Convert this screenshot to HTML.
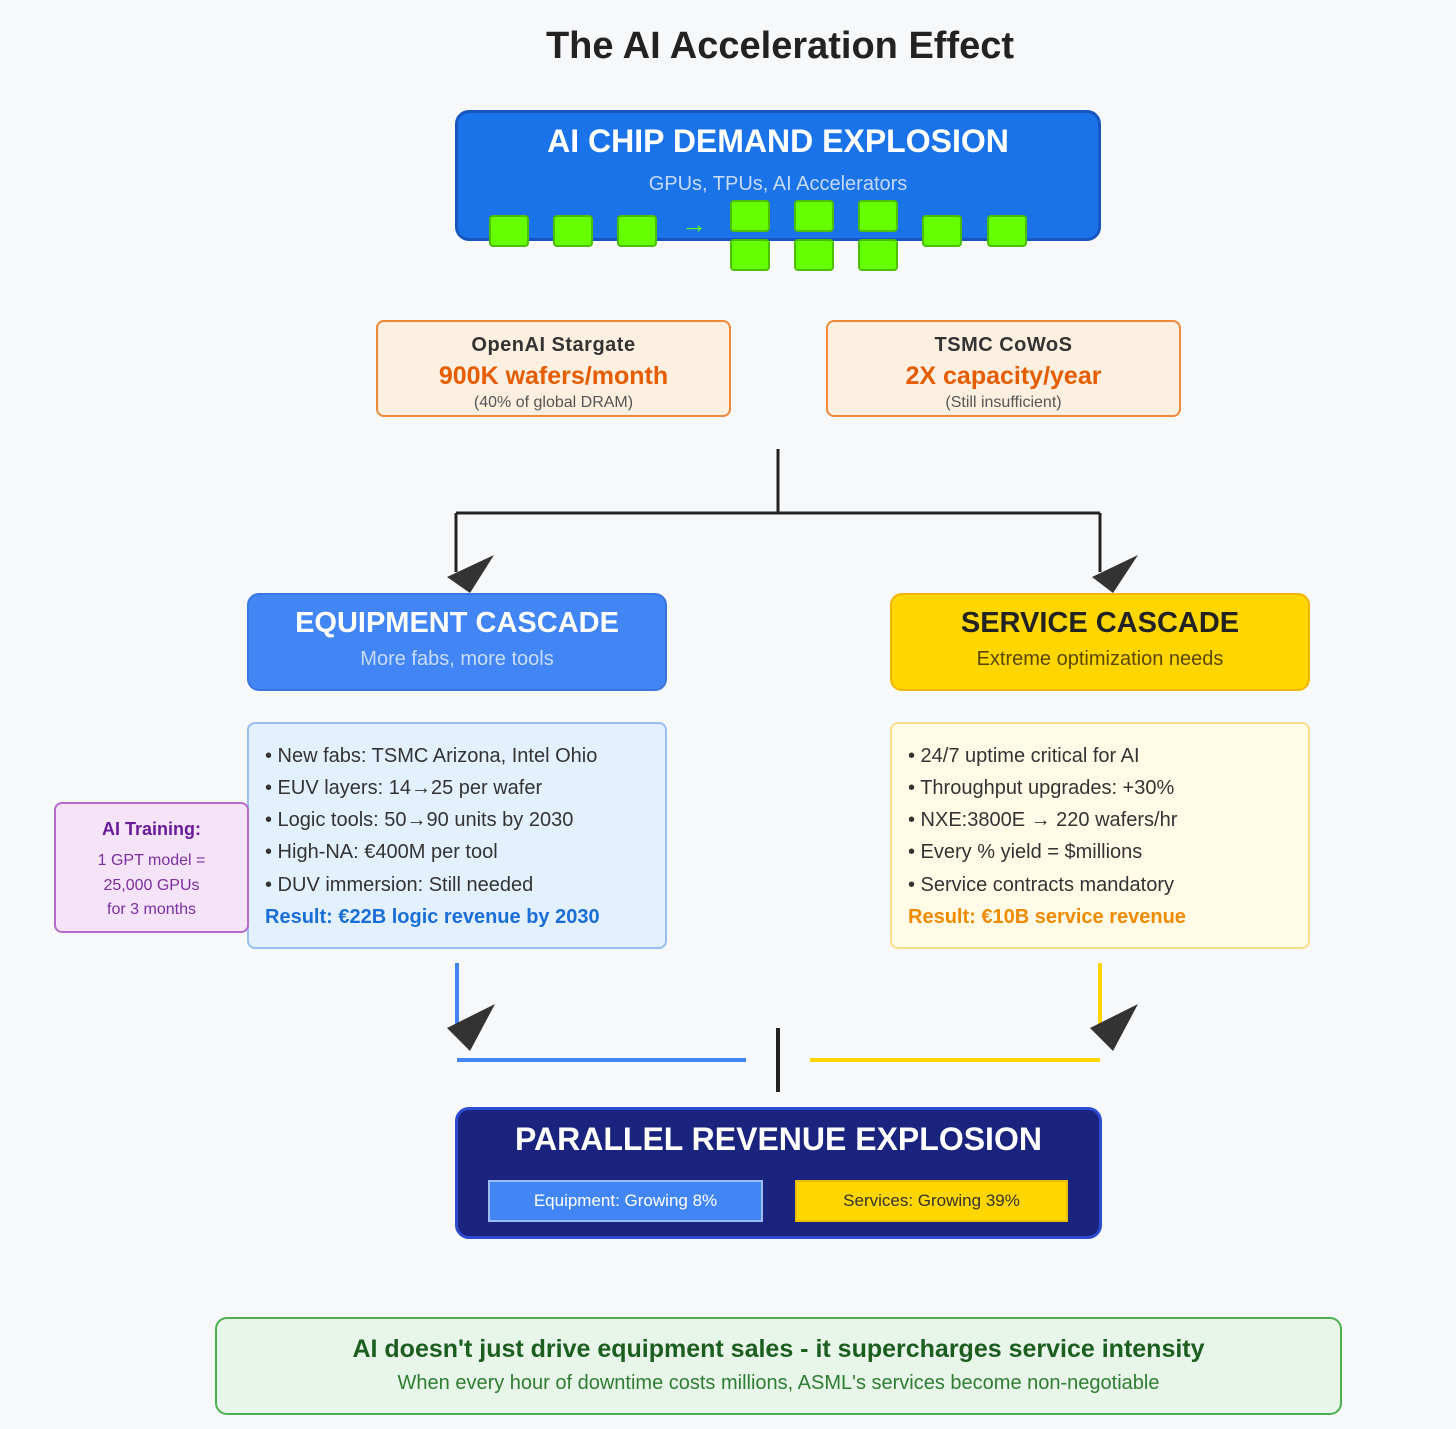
<!DOCTYPE html>
<html><head><meta charset="utf-8"><style>
*{margin:0;padding:0;box-sizing:border-box}
body{width:1456px;height:1429px;background:#f7f8fa;font-family:"Liberation Sans",Arial,sans-serif;position:relative;overflow:hidden}
.a{position:absolute}
.c{position:absolute;left:0;right:0;text-align:center;white-space:nowrap}
.sq{position:absolute;width:40px;height:32px;background:#66ff00;border:2px solid #4cbf00;border-radius:4px}
.li{position:absolute;left:16px;font-size:20px;color:#333;white-space:nowrap}
</style></head><body>
<div class="a" style="left:480px;width:600px;text-align:center;top:25px;font-size:38px;font-weight:bold;color:#222;white-space:nowrap">The AI Acceleration Effect</div>

<div class="a" style="left:455px;top:110px;width:646px;height:131px;background:#1a73e8;border:3px solid #1656c0;border-radius:14px">
<div class="c" style="top:10px;font-size:32px;font-weight:bold;color:#fff">AI CHIP DEMAND EXPLOSION</div>
<div class="c" style="top:60px;font-size:20px;color:#c6dafa">GPUs, TPUs, AI Accelerators</div>
</div>
<div class="sq" style="left:489px;top:215px"></div>
<div class="sq" style="left:553px;top:215px"></div>
<div class="sq" style="left:617px;top:215px"></div>
<div class="a" style="left:681px;top:209px;font-size:26px;color:#5fff20">→</div>
<div class="sq" style="left:730px;top:200px"></div>
<div class="sq" style="left:794px;top:200px"></div>
<div class="sq" style="left:858px;top:200px"></div>
<div class="sq" style="left:730px;top:239px"></div>
<div class="sq" style="left:794px;top:239px"></div>
<div class="sq" style="left:858px;top:239px"></div>
<div class="sq" style="left:922px;top:215px"></div>
<div class="sq" style="left:987px;top:215px"></div>

<div class="a" style="left:376px;top:320px;width:355px;height:97px;background:#fdf0e0;border:2px solid #f0883a;border-radius:8px">
<div class="c" style="top:12px;font-size:20px;font-weight:bold;color:#333;letter-spacing:0.5px">OpenAI Stargate</div>
<div class="c" style="top:40px;font-size:25px;font-weight:bold;color:#e65c00">900K wafers/month</div>
<div class="c" style="top:72px;font-size:16px;color:#555">(40% of global DRAM)</div>
</div>
<div class="a" style="left:826px;top:320px;width:355px;height:97px;background:#fdf0e0;border:2px solid #f0883a;border-radius:8px">
<div class="c" style="top:12px;font-size:20px;font-weight:bold;color:#333;letter-spacing:0.5px">TSMC CoWoS</div>
<div class="c" style="top:40px;font-size:25px;font-weight:bold;color:#e65c00">2X capacity/year</div>
<div class="c" style="top:72px;font-size:16px;color:#555">(Still insufficient)</div>
</div>

<svg class="a" style="left:0;top:0" width="1456" height="1429">
<g stroke="#222" stroke-width="3" fill="none">
<path d="M778 449V513M456 513H1100M456 513V572M1100 513V572"/>
</g>
<polygon points="447,577 494,555 470,593" fill="#333"/>
<polygon points="1092,577 1138,555 1113,593" fill="#333"/>
<line x1="457" y1="963" x2="457" y2="1026" stroke="#4285f4" stroke-width="4"/>
<line x1="1100" y1="963" x2="1100" y2="1026" stroke="#ffd600" stroke-width="4"/>
<polygon points="447,1028 495,1004 470,1051" fill="#333"/>
<polygon points="1090,1028 1138,1004 1113,1051" fill="#333"/>
<line x1="457" y1="1060" x2="746" y2="1060" stroke="#4285f4" stroke-width="4"/>
<line x1="810" y1="1060" x2="1100" y2="1060" stroke="#ffd600" stroke-width="4"/>
<line x1="778" y1="1028" x2="778" y2="1092" stroke="#222" stroke-width="4"/>
</svg>

<div class="a" style="left:247px;top:593px;width:420px;height:98px;background:#4285f4;border:2px solid #3a76e0;border-radius:12px">
<div class="c" style="top:12px;font-size:29px;font-weight:bold;color:#fff">EQUIPMENT CASCADE</div>
<div class="c" style="top:53px;font-size:20px;color:#c8dcff">More fabs, more tools</div>
</div>
<div class="a" style="left:890px;top:593px;width:420px;height:98px;background:#ffd600;border:2px solid #f5b400;border-radius:12px">
<div class="c" style="top:12px;font-size:29px;font-weight:bold;color:#222">SERVICE CASCADE</div>
<div class="c" style="top:53px;font-size:20px;color:#5a4800">Extreme optimization needs</div>
</div>

<div class="a" style="left:247px;top:722px;width:420px;height:227px;background:#e3f0fd;border:2px solid #98bff0;border-radius:8px">
<div class="li" style="top:21px">• New fabs: TSMC Arizona, Intel Ohio</div>
<div class="li" style="top:53px">• EUV layers: 14→25 per wafer</div>
<div class="li" style="top:85px">• Logic tools: 50→90 units by 2030</div>
<div class="li" style="top:117px">• High-NA: €400M per tool</div>
<div class="li" style="top:150px">• DUV immersion: Still needed</div>
<div class="li" style="top:182px;font-weight:bold;color:#1a6ed8">Result: €22B logic revenue by 2030</div>
</div>
<div class="a" style="left:890px;top:722px;width:420px;height:227px;background:#fffbe6;border:2px solid #f8e08a;border-radius:8px">
<div class="li" style="top:21px">• 24/7 uptime critical for AI</div>
<div class="li" style="top:53px">• Throughput upgrades: +30%</div>
<div class="li" style="top:85px">• NXE:3800E → 220 wafers/hr</div>
<div class="li" style="top:117px">• Every % yield = $millions</div>
<div class="li" style="top:150px">• Service contracts mandatory</div>
<div class="li" style="top:182px;font-weight:bold;color:#f08a00">Result: €10B service revenue</div>
</div>

<div class="a" style="left:54px;top:802px;width:195px;height:131px;background:#f5e3f8;border:2px solid #b56cc8;border-radius:8px">
<div class="c" style="top:15px;font-size:18px;font-weight:bold;color:#6a1b9a">AI Training:</div>
<div class="c" style="top:48px;font-size:16px;color:#7b2fa0">1 GPT model =</div>
<div class="c" style="top:73px;font-size:16px;color:#7b2fa0">25,000 GPUs</div>
<div class="c" style="top:97px;font-size:16px;color:#7b2fa0">for 3 months</div>
</div>

<div class="a" style="left:455px;top:1107px;width:647px;height:132px;background:#1a237e;border:3px solid #2c4bd0;border-radius:14px">
<div class="c" style="top:11px;font-size:32px;font-weight:bold;color:#fff">PARALLEL REVENUE EXPLOSION</div>
<div class="a" style="left:30px;top:70px;width:275px;height:42px;background:#4285f4;border:2px solid #9cbcf8;color:#fff;font-size:17px;text-align:center;line-height:38px">Equipment: Growing 8%</div>
<div class="a" style="left:337px;top:70px;width:273px;height:42px;background:#ffd600;border:2px solid #e8c000;color:#333;font-size:17px;text-align:center;line-height:38px">Services: Growing 39%</div>
</div>

<div class="a" style="left:215px;top:1317px;width:1127px;height:98px;background:#e8f5e9;border:2px solid #4caf50;border-radius:12px">
<div class="c" style="top:16px;font-size:25px;font-weight:bold;color:#1b5e20">AI doesn't just drive equipment sales - it supercharges service intensity</div>
<div class="c" style="top:53px;font-size:20px;color:#2e7d32">When every hour of downtime costs millions, ASML's services become non-negotiable</div>
</div>
</body></html>
